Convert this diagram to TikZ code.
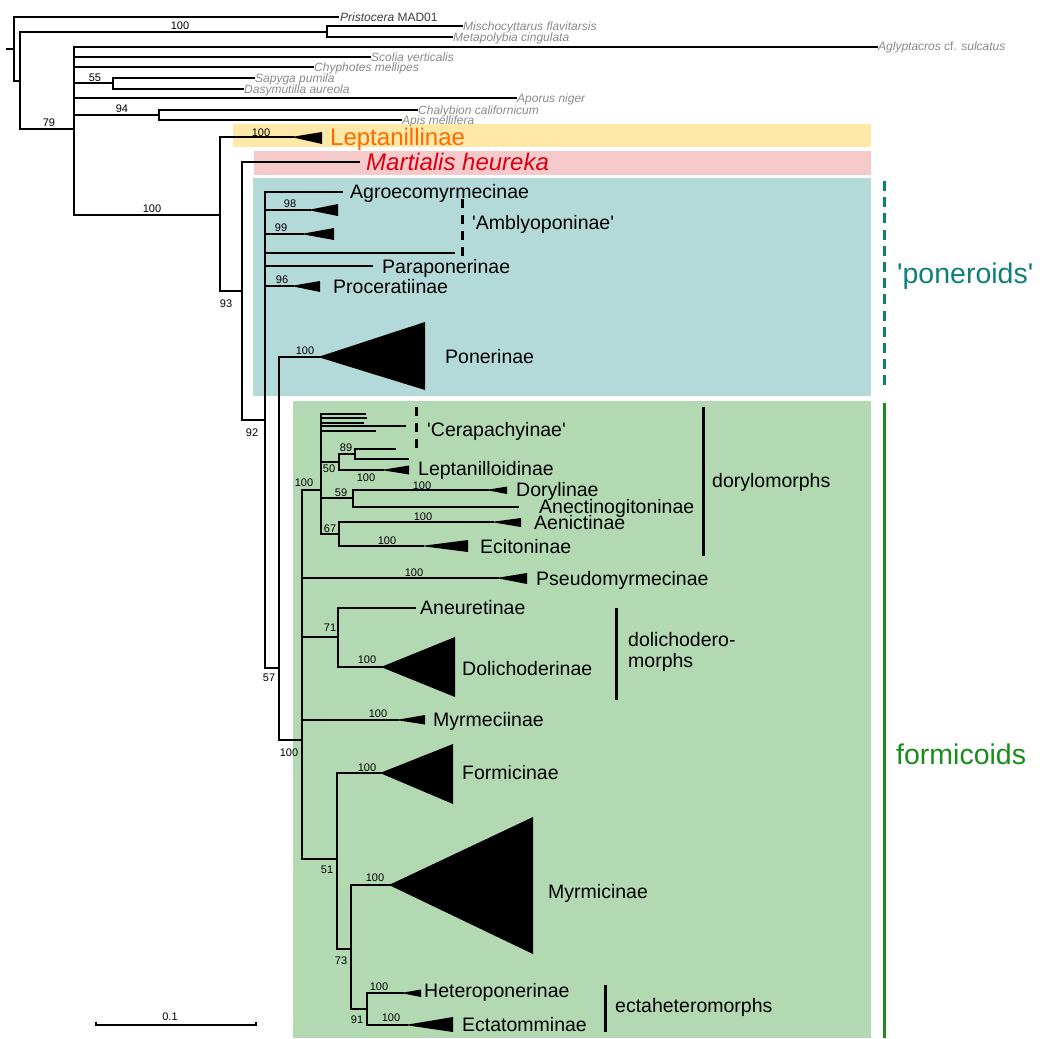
\documentclass[tikz,border=0pt]{standalone}
\usepackage{fontspec}
\setmainfont{Liberation Sans}[Ligatures=TeXOff]
\definecolor{boxY}{HTML}{FFE9A8}
\definecolor{boxP}{HTML}{F6C9CB}
\definecolor{boxB}{HTML}{B3DAD9}
\definecolor{boxG}{HTML}{B2D9B2}
\definecolor{lepOr}{HTML}{FF6A00}
\definecolor{marRed}{HTML}{DD0011}
\definecolor{ponTeal}{HTML}{0E8079}
\definecolor{forGreen}{HTML}{1A8C1A}
\definecolor{ogGray}{HTML}{8A8A8A}
\definecolor{ogDark}{HTML}{3C3C3C}
\tikzset{
  br/.style={line width=1.2pt, line cap=rect},
  tri/.style={fill=black},
  tax/.style={anchor=west, inner sep=0pt, font=\fontsize{19.5}{22}\selectfont, text height=14pt, text depth=0pt},
  og/.style={anchor=west, inner sep=0pt, font=\fontsize{12}{14}\selectfont\itshape, text=ogGray, text height=8.6pt, text depth=0pt},
  bs/.style={inner sep=0pt, font=\fontsize{11}{13}\selectfont, text height=8pt, text depth=0pt},
  big/.style={anchor=west, inner sep=0pt, font=\fontsize{24}{28}\selectfont, text height=17pt, text depth=0pt},
  grp/.style={anchor=west, inner sep=0pt, font=\fontsize{28.5}{32}\selectfont, text height=20.5pt, text depth=0pt},
  gbar/.style={line width=3pt},
  dbar/.style={line width=3pt, dash pattern=on 9pt off 7pt},
}
\begin{document}
\begin{tikzpicture}[x=1pt,y=-1pt]
\useasboundingbox (0,0) rectangle (1039,1039);
% background boxes
\fill[boxY] (233,124) rectangle (871,147);
\fill[boxP] (254,151) rectangle (871,175);
\fill[boxB] (253,178) rectangle (871,396);
\fill[boxG] (293,401) rectangle (871,1038);

% ---------- outgroups ----------
\draw[br] (7,49) -- (14,49);
\draw[br] (14,17) -- (14,81);
\draw[br] (14,17) -- (338,17);
\draw[br] (14,81) -- (20,81);
\draw[br] (20,32) -- (20,129);
\draw[br] (20,32) -- (327,32);
\draw[br] (327,26) -- (327,37);
\draw[br] (327,26) -- (462,26);
\draw[br] (327,37) -- (452,37);
\draw[br] (20,129) -- (74,129);
\draw[br] (74,47) -- (74,215);
\draw[br] (74,47) -- (877,47);
\draw[br] (74,57) -- (370,57);
\draw[br] (74,67) -- (313,67);
\draw[br] (74,83) -- (113,83);
\draw[br] (113,78) -- (113,89);
\draw[br] (113,78) -- (254,78);
\draw[br] (113,89) -- (243,89);
\draw[br] (74,98) -- (516,98);
\draw[br] (74,115) -- (159,115);
\draw[br] (159,110) -- (159,120);
\draw[br] (159,110) -- (417,110);
\draw[br] (159,120) -- (401,120);

\node[og, text=ogDark] (pri) at (340,17) {Pristocera \upshape MAD01};
\node[og] (mis) at (463,26) {Mischocyttarus flavitarsis};
\node[og] (met) at (453,37) {Metapolybia cingulata};
\node[og] (agl) at (878,46) {Aglyptacros {\upshape cf.} sulcatus};
\node[og] (sco) at (371,57) {Scolia verticalis};
\node[og] (chy) at (314,67) {Chyphotes mellipes};
\node[og] (sap) at (255,78) {Sapyga pumila};
\node[og] (das) at (244,89) {Dasymutilla aureola};
\node[og] (apo) at (517,98) {Aporus niger};
\node[og] (cha) at (418,110) {Chalybion californicum};
\node[og] (api) at (402,120) {Apis mellifera};

\node[bs] (b100v) at (180,25) {100};
\node[bs] (b55) at (95,77) {55};
\node[bs] (b94) at (122,108) {94};
\node[bs] (b79) at (49,122) {79};

% ---------- ants ----------
\draw[br] (74,215) -- (220,215);
\node[bs] (b100a) at (152,208) {100};
\draw[br] (220,137) -- (220,291);
\draw[br] (220,137) -- (293,137);
\fill[tri] (291,137) -- (322,132) -- (322,144) -- cycle;
\node[bs] (b100l) at (261,132) {100};
\node[big, text=lepOr] (lep) at (330,137) {Leptanillinae};
\draw[br] (220,291) -- (242,291);
\node[bs] (b93) at (226,303) {93};
\draw[br] (242,162) -- (242,420);
\draw[br] (242,162) -- (359,162);
\node[big, text=marRed, font=\fontsize{24}{28}\selectfont\itshape] (mar) at (366,162) {Martialis heureka};
\draw[br] (242,420) -- (265,420);
\node[bs] (b92) at (252,432) {92};

% poneroids
\draw[br] (265,192) -- (265,668);
\draw[br] (265,192) -- (342,192);
\node[tax] (agr) at (350,191) {Agroecomyrmecinae};
\draw[br] (265,210) -- (310,210);
\fill[tri] (308,210) -- (338,204) -- (338,216) -- cycle;
\node[bs] (b98) at (290,203) {98};
\draw[br] (265,234) -- (303,234);
\fill[tri] (301,234) -- (334,228) -- (334,240) -- cycle;
\node[bs] (b99) at (281,227) {99};
\draw[br] (265,253) -- (454,253);
\draw[dbar] (462,199) -- (462,258);
\node[tax] (amb) at (472,222) {'Amblyoponinae'};
\draw[br] (265,266) -- (372,266);
\node[tax] (par) at (382,266) {Paraponerinae};
\draw[br] (265,286) -- (293,286);
\fill[tri] (291,286) -- (320,281) -- (320,292) -- cycle;
\node[bs] (b96) at (282,279) {96};
\node[tax] (pro) at (333,286) {Proceratiinae};
\draw[br] (265,668) -- (279,668);
\node[bs] (b57) at (269,677) {57};
\draw[br] (279,357) -- (279,740);
\draw[br] (279,357) -- (320,357);
\fill[tri] (318,357) -- (425,322) -- (425,390) -- cycle;
\node[bs] (b100p) at (305,350) {100};
\node[tax] (pon) at (445,356) {Ponerinae};

% formicoids
\draw[br] (279,740) -- (302,740);
\node[bs] (b100f) at (289,752) {100};
\draw[br] (302,490) -- (302,859);
% dorylomorphs
\draw[br] (302,490) -- (321,490);
\node[bs] (b100d) at (304,482) {100};
\draw[br] (321,414) -- (321,534);
\draw[br] (321,414) -- (365,414);
\draw[br] (321,418) -- (366,418);
\draw[br] (321,423) -- (363,423);
\draw[br] (321,426) -- (405,426);
\draw[br] (321,431) -- (375,431);
\draw[dbar] (416,407) -- (416,454);
\node[tax] (cer) at (427,429) {'Cerapachyinae'};
\draw[br] (321,462) -- (339,462);
\node[bs] (b50) at (329,468) {50};
\draw[br] (339,454) -- (339,470);
\draw[br] (339,454) -- (355,454);
\node[bs] (b89) at (346,447) {89};
\draw[br] (355,449) -- (355,459);
\draw[br] (355,449) -- (395,449);
\draw[br] (355,459) -- (408,459);
\draw[br] (339,470) -- (383,470);
\fill[tri] (381,470) -- (409,465.5) -- (409,474.5) -- cycle;
\node[bs] (b100lo) at (366,477) {100};
\node[tax] (lpd) at (418,468) {Leptanilloidinae};
\draw[br] (321,498) -- (353,498);
\node[bs] (b59) at (341,492) {59};
\draw[br] (353,490) -- (353,507);
\draw[br] (353,490) -- (488,490);
\fill[tri] (486,490) -- (507,486.5) -- (507,494) -- cycle;
\node[bs] (b100do) at (422,485) {100};
\node[tax] (dor) at (516,489) {Dorylinae};
\draw[br] (353,507) -- (518,507);
\node[tax] (ane) at (539,506) {Anectinogitoninae};
\draw[br] (321,534) -- (339,534);
\node[bs] (b67) at (330,528) {67};
\draw[br] (339,522) -- (339,546);
\draw[br] (339,522) -- (493,522);
\fill[tri] (491,522) -- (521,518) -- (521,527) -- cycle;
\node[bs] (b100ae) at (423,516) {100};
\node[tax] (aen) at (534,522) {Aenictinae};
\draw[br] (339,546) -- (423,546);
\fill[tri] (421,546) -- (468,540) -- (468,552) -- cycle;
\node[bs] (b100ec) at (387,540) {100};
\node[tax] (eci) at (480,546) {Ecitoninae};
\draw[gbar] (703,407) -- (703,556);
\node[tax] (dmo) at (712,480) {dorylomorphs};

% Pseudomyrmecinae
\draw[br] (302,578) -- (498,578);
\fill[tri] (496,578) -- (527,573) -- (527,584) -- cycle;
\node[bs] (b100ps) at (414,572) {100};
\node[tax] (pse) at (536,578) {Pseudomyrmecinae};
% dolichoderomorphs
\draw[br] (302,637) -- (338,637);
\node[bs] (b71) at (330,627) {71};
\draw[br] (338,608) -- (338,667);
\draw[br] (338,608) -- (415,608);
\node[tax] (anr) at (420,607) {Aneuretinae};
\draw[br] (338,667) -- (383,667);
\fill[tri] (381,667) -- (455,637) -- (455,697) -- cycle;
\node[bs] (b100dl) at (367,659) {100};
\node[tax] (dol) at (462,668) {Dolichoderinae};
\draw[gbar] (616,608) -- (616,700);
\node[tax] (dlm1) at (628,639) {dolichodero-};
\node[tax] (dlm2) at (628,660) {morphs};
% Myrmeciinae
\draw[br] (302,720) -- (398,720);
\fill[tri] (396,720) -- (425,715) -- (425,724.5) -- cycle;
\node[bs] (b100my) at (378,713) {100};
\node[tax] (myr) at (433,719) {Myrmeciinae};
% 51 clade
\draw[br] (302,859) -- (337,859);
\node[bs] (b51) at (327,869) {51};
\draw[br] (337,773) -- (337,949);
\draw[br] (337,773) -- (382,773);
\fill[tri] (380,773) -- (453,744) -- (453,804) -- cycle;
\node[bs] (b100fo) at (367,767) {100};
\node[tax] (for) at (462,772) {Formicinae};
\draw[br] (337,949) -- (351,949);
\node[bs] (b73) at (341,960) {73};
\draw[br] (351,885) -- (351,1009);
\draw[br] (351,885) -- (391,885);
\fill[tri] (389,885) -- (533,817) -- (533,954) -- cycle;
\node[bs] (b100mi) at (375,877) {100};
\node[tax] (mym) at (548,891) {Myrmicinae};
\draw[br] (351,1009) -- (367,1009);
\node[bs] (b91) at (357,1019) {91};
\draw[br] (367,993) -- (367,1025);
\draw[br] (367,993) -- (403,993);
\fill[tri] (401,993) -- (421,989.5) -- (421,997) -- cycle;
\node[bs] (b100he) at (379,986) {100};
\node[tax] (het) at (424,990) {Heteroponerinae};
\draw[br] (367,1025) -- (407,1025);
\fill[tri] (405,1025) -- (453,1017) -- (453,1032) -- cycle;
\node[bs] (b100et) at (391,1017) {100};
\node[tax] (ect) at (462,1024) {Ectatomminae};
\draw[gbar] (605,985) -- (605,1032);
\node[tax] (ehm) at (615,1005) {ectaheteromorphs};

% big group brackets
\draw[dbar, ponTeal, dash pattern=on 10pt off 6.2pt] (884,181) -- (884,391);
\node[grp, text=ponTeal] (pnr) at (897,273) {'poneroids'};
\draw[gbar, forGreen] (884,403) -- (884,1038);
\node[grp, text=forGreen] (fmc) at (896,754) {formicoids};

% scale bar
\draw[line width=1.2pt] (96,1021.5) -- (96,1025) -- (256,1025) -- (256,1021.5);
\node[bs] (sc) at (170,1016) {0.1};
\end{tikzpicture}
\end{document}
